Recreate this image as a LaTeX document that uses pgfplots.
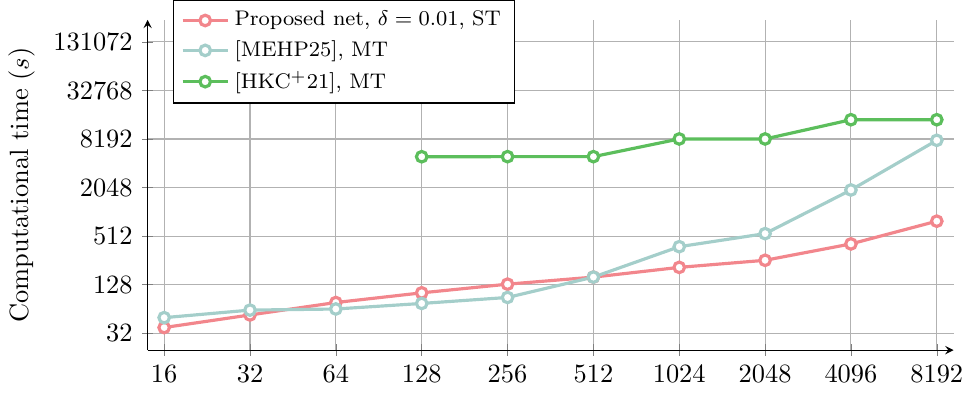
\documentclass[border=0pt]{standalone}
\usepackage{pgfplots}
\pgfplotsset{compat=1.18}
\definecolor{cred}{RGB}{242,134,140}
\definecolor{cteal}{RGB}{164,206,202}
\definecolor{cgreen}{RGB}{92,190,92}
\begin{document}
\begin{tikzpicture}
\begin{axis}[
  scale only axis,
  width=305pt, height=125pt,
  xmode=log, ymode=log, log basis x=2, log basis y=2,
  xmin=14.0, xmax=9380, ymin=19.8, ymax=246000,
  axis lines=left,
  grid=major,
  major grid style={gray!60, line width=0.4pt},
  xtick={16,32,64,128,256,512,1024,2048,4096,8192},
  xticklabels={16,32,64,128,256,512,1024,2048,4096,8192},
  ytick={32,128,512,2048,8192,32768,131072},
  yticklabels={32,128,512,2048,8192,32768,131072},
  ylabel={Computational time ($s$)},
  legend style={at={(0.031,1.06)}, anchor=north west, draw=black, fill=white, legend cell align=left, font=\footnotesize},
  every axis plot/.append style={line width=1.2pt, mark=o, mark size=2pt, mark options={fill=white, solid}},
]
\addplot[color=cred, mark=*] coordinates {
(16,37.7) (32,54) (64,77) (128,101.5) (256,130) (512,159) (1024,210) (2048,257) (4096,410) (8192,785)};
\addlegendentry{Proposed net, $\delta=0.01$, ST}
\addplot[color=cteal, mark=*] coordinates {
(16,50) (32,62) (64,64) (128,75) (256,89) (512,159) (1024,379) (2048,550) (4096,1912) (8192,7890)};
\addlegendentry{[MEHP25], MT}
\addplot[color=cgreen, mark=*] coordinates {
(128,4940) (256,4950) (512,4950) (1024,8200) (2048,8200) (4096,14200) (8192,14200)};
\addlegendentry{[HKC$^{+}$21], MT}
\end{axis}
\end{tikzpicture}
\end{document}
